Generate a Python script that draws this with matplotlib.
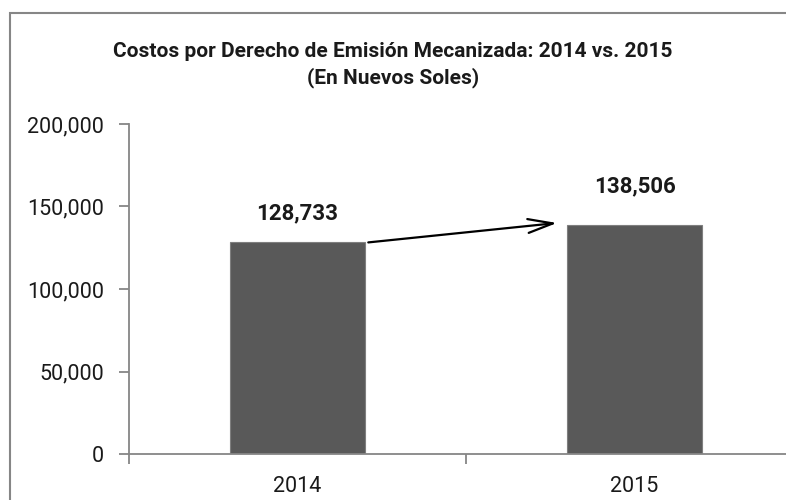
import matplotlib.pyplot as plt
from matplotlib.patches import Rectangle
from matplotlib.ticker import FuncFormatter

years = ['2014', '2015']
costos = [128733, 138506]
y_ticks = [0, 50000, 100000, 150000, 200000]

plt.rcParams['font.family'] = ['Roboto', 'DejaVu Sans']

fig = plt.figure(figsize=(7.86, 5.0), dpi=100)
ax = fig.add_axes([129 / 786, 46 / 500, 674 / 786, 330 / 500])

x = list(range(len(years)))
bar_w = 0.4
ax.bar(x, costos, width=bar_w, color='#595959', edgecolor='#7f7f7f', linewidth=0.8, zorder=2)

ax.set_xlim(-0.5, len(years) - 0.5)
ax.set_ylim(0, 200000)
ax.set_yticks(y_ticks)
ax.yaxis.set_major_formatter(FuncFormatter(lambda v, p: '{:,.0f}'.format(v)))
ax.set_xticks(x)
ax.set_xticklabels(years)
ax.set_xticks([i - 0.5 for i in range(len(years) + 1)], minor=True)

for s in ['top', 'right']:
    ax.spines[s].set_visible(False)
for s in ['left', 'bottom']:
    ax.spines[s].set_color('#868686')
    ax.spines[s].set_linewidth(1.3)

ax.tick_params(axis='y', length=7, width=1.3, color='#868686', pad=11, labelsize=15.5, labelcolor='#1a1a1a')
ax.tick_params(axis='x', which='major', length=0, pad=16, labelsize=15.5, labelcolor='#1a1a1a')
ax.tick_params(axis='x', which='minor', length=7, width=1.3, color='#868686')

# etiquetas de valores
offsets = [20, 28]
for i, v in enumerate(costos):
    ax.annotate('{:,}'.format(v), (x[i], v), xytext=(0, offsets[i]), textcoords='offset points',
                ha='center', va='center', fontsize=16, fontweight='bold', color='#1a1a1a')

# flecha entre barras
ax.annotate('', xy=(x[1] - bar_w / 2 - 0.03, costos[1] + 1500),
            xytext=(x[0] + bar_w / 2 + 0.01, costos[0] - 500),
            arrowprops=dict(arrowstyle='->,head_length=1.8,head_width=0.5',
                            color='black', lw=1.6, mutation_scale=10, shrinkA=0, shrinkB=0))

fig.text(0.5, 0.87, 'Costos por Derecho de Emisión Mecanizada: 2014 vs. 2015\n(En Nuevos Soles)',
         ha='center', va='center', fontsize=15, fontweight='bold', color='#1a1a1a',
         linespacing=1.4)

fig.patches.append(Rectangle((10 / 786, -0.1), 1.2, 0.974 + 0.1, transform=fig.transFigure,
                             fill=False, edgecolor='#868686', linewidth=1.5))

fig.savefig('out.png', dpi=100)
